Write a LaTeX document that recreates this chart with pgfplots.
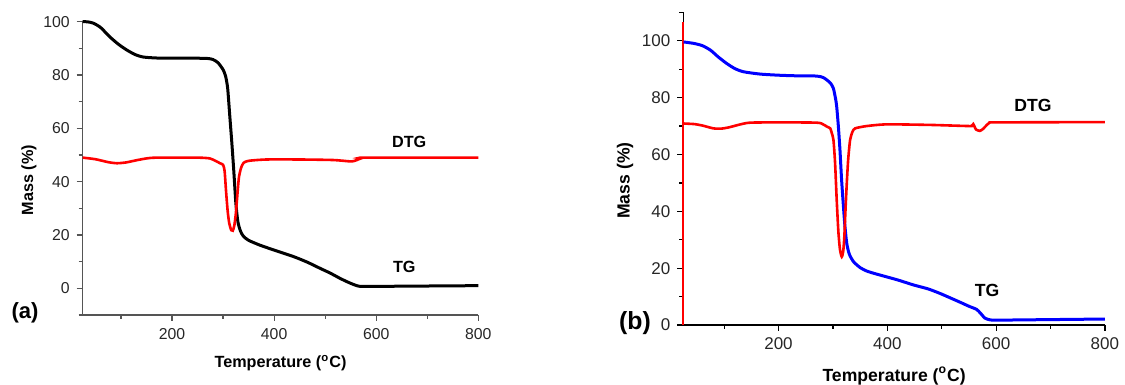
\documentclass[border=0pt]{standalone}
\usepackage{pgfplots}
\pgfplotsset{compat=1.18}
\usepackage{fontspec}
\setmainfont{Liberation Sans}
\definecolor{axgray}{HTML}{555555}
\begin{document}
\begin{tikzpicture}
\useasboundingbox (0,0) rectangle (562.5pt,192.5pt);
% ---------------- panel (a)
\begin{axis}[
  at={(41.35pt,35pt)}, anchor=south west,
  scale only axis, width=197.8pt, height=146.7pt,
  xmin=25, xmax=800, ymin=-10, ymax=100,
  axis x line*=bottom, axis y line*=left,
  axis line style={axgray, line width=0.6pt},
  tick style={axgray, line width=0.6pt},
  tick align=outside,
  major tick length=3pt, minor tick length=2pt,
  xtick={200,400,600,800}, minor xtick={100,300,500,700},
  ytick={0,20,40,60,80,100}, minor ytick={-10,10,30,50,70,90},
  /pgf/number format/assume math mode=true,
  ticklabel style={font=\fontsize{7.9}{9}\selectfont, text=black!85},
  xlabel={\textbf{Temperature (\textsuperscript{o}C)}},
  ylabel={\textbf{Mass (\%)}},
  label style={font=\fontsize{8.1}{10}\selectfont},
  xlabel style={at={(axis description cs:0.5,-0.164)}, anchor=center},
  ylabel style={at={(axis description cs:-0.136,0.46)}, anchor=center, rotate=0},
  clip=false,
]
\addplot[black, line width=1.5pt, smooth, tension=0.4] coordinates {
(25,100) (35,99.9) (46,99.4) (60,97.8) (78,94.3) (95,91.5) (111,89.4) (127,87.7)
(144,86.7) (177,86.3) (230,86.3) (268,86.2) (280,85.8) (290,84.6)
(300,82) (305,79.5) (309,75) (313,65) (317,55) (321,44) (325,32) (329,25)
(334,21.5) (340,19.5) (350,18) (372,16.2) (399,14.4) (438,11.9) (465,9.8)
(490,7.5) (510,5.7) (529,3.75) (546,2.2) (562,1.0) (575,0.7)
(650,0.8) (800,1.0)};
\addplot[red, line width=1.3pt, smooth, tension=0.4] coordinates {
(25,49) (50,48.4) (75,47.3) (92,46.9) (110,47.2) (130,48) (150,48.7) (170,49.0)
(250,49.0) (274,48.7) (285,47.8) (294,46.9) (300,46.3) (303,44) (306,36)
(309,29) (312,24.5) (316,21.8) (319,21.6) (322,23.5) (325,28) (328,35)
(331,41.5) (335,45) (340,47) (350,47.8) (385,48.3) (450,48.3) (516,48.1)
(548,47.6) (556,47.7) (562,48.1) (570,48.7) (580,49) (800,49)};
\node[font=\fontsize{8.1}{10}\selectfont\bfseries] at (axis cs:664.7,54.9) {DTG};
\node[font=\fontsize{8.1}{10}\selectfont\bfseries] at (axis cs:655,8) {TG};
\node[font=\fontsize{11}{13}\selectfont\bfseries] at (rel axis cs:-0.146,0.007) {(a)};
\end{axis}
% ---------------- panel (b)
\begin{axis}[
  at={(341.65pt,30pt)}, anchor=south west,
  scale only axis, width=210.8pt, height=156.3pt,
  xmin=25, xmax=800, ymin=0, ymax=110,
  axis x line*=bottom, axis y line*=left,
  x axis line style={black, line width=0.6pt},
  y axis line style={black, line width=0.6pt},
  tick style={black, line width=0.6pt},
  tick align=outside,
  major tick length=3pt, minor tick length=2pt,
  xtick={200,400,600,800}, minor xtick={100,300,500,700},
  ytick={0,20,40,60,80,100}, minor ytick={10,30,50,70,90,110},
  /pgf/number format/assume math mode=true,
  ticklabel style={font=\fontsize{8.5}{10}\selectfont, text=black!85},
  xlabel={\textbf{Temperature (\textsuperscript{o}C)}},
  ylabel={\textbf{Mass (\%)}},
  label style={font=\fontsize{8.8}{10}\selectfont},
  xlabel style={at={(axis description cs:0.5,-0.163)}, anchor=center},
  ylabel style={at={(axis description cs:-0.138,0.462)}, anchor=center, rotate=0},
  clip=false,
]
\draw[red, line width=0.9pt] (rel axis cs:0,0) -- (rel axis cs:0,0.97);
\addplot[blue, line width=1.5pt, smooth, tension=0.4] coordinates {
(25.5,99.6) (44,99.1) (60,98.3) (75,96.7) (90,94.2) (105,92) (120,90.2)
(136,89.1) (166,88.3) (200,87.9) (230,87.7) (270,87.6) (282,87.1) (289,86.2)
(296,85) (301,83.2) (305,79.5) (307,76.8) (310,70) (313,61.5) (316,51)
(319.4,41.6) (322,35) (325.5,28.7) (330,25) (337.8,22.3) (350,20.2) (362,19.0)
(375,18.2) (390,17.4) (420,15.8) (448,14.1) (475,12.7) (497,11.1) (515,9.6)
(534,8.0) (550,6.6) (564,5.5) (571,4.2) (579.6,2.4) (589,1.8)
(600,1.7) (650,1.8) (800,2.1)};
\addplot[red, line width=1.3pt, smooth, tension=0.4] coordinates {
(25,70.9) (45,70.7) (60,70.2) (80,69.2) (95,69.1) (110,69.6) (130,70.6)
(148,71.2) (200,71.3) (270,71.2) (282,70.6) (289,69.8) (295,69.2) (298,67.5)
(301,65.1) (304,57) (307,44) (310,33) (313,26.5) (316.3,24) (319,26) (321,31)
(323,40) (325.5,49.8) (328,58) (331.6,65.1) (336,68) (341,69.2) (362,70)
(399,70.6) (480,70.4) (552,70) (556,70.3) (558,70.7) (560,70) (563,68.8)
(570,68.3) (576,69) (580,69.8) (588,71.2) (600,71.3) (800,71.4)};
\node[font=\fontsize{8.8}{10}\selectfont\bfseries] at (axis cs:667.8,77.4) {DTG};
\node[font=\fontsize{8.8}{10}\selectfont\bfseries] at (axis cs:583.3,12) {TG};
\node[font=\fontsize{12.4}{14}\selectfont\bfseries] at (rel axis cs:-0.1145,0.006) {(b)};
\end{axis}
\end{tikzpicture}
\end{document}
